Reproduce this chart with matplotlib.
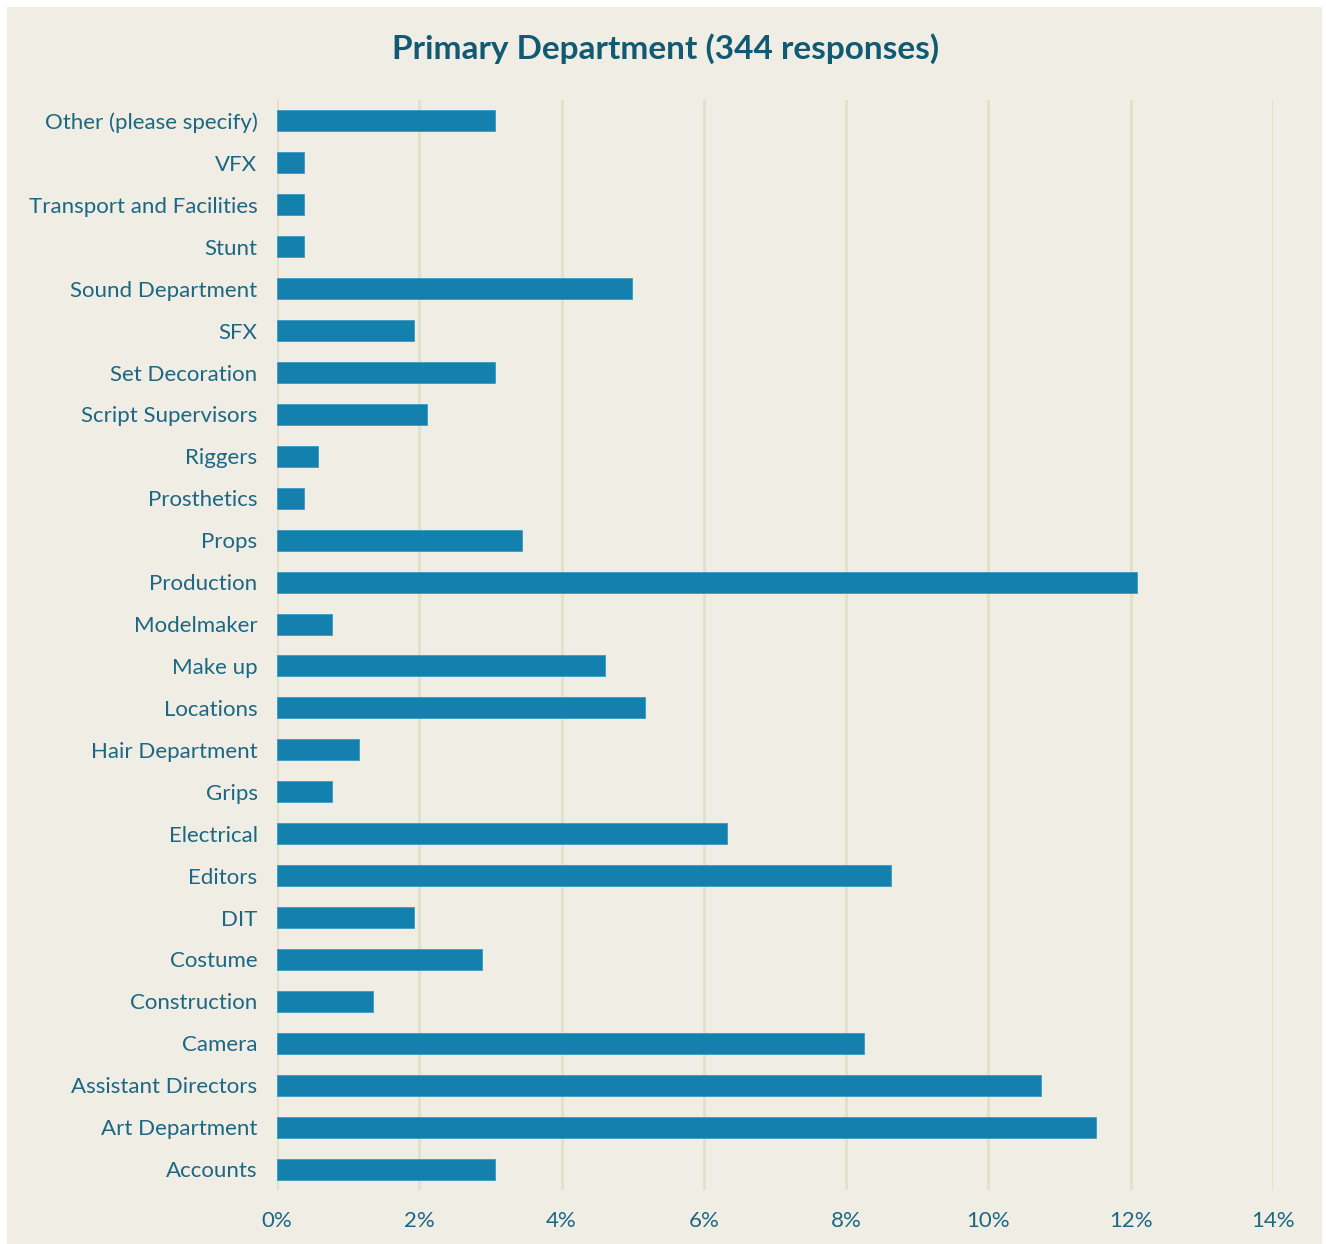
import numpy as np
import matplotlib.pyplot as plt
from matplotlib.patches import Rectangle

# data, bottom to top
departments = ["Accounts", "Art Department", "Assistant Directors", "Camera",
               "Construction", "Costume", "DIT", "Editors", "Electrical", "Grips",
               "Hair Department", "Locations", "Make up", "Modelmaker", "Production",
               "Props", "Prosthetics", "Riggers", "Script Supervisors", "Set Decoration",
               "SFX", "Sound Department", "Stunt", "Transport and Facilities", "VFX",
               "Other (please specify)"]
share = [3.06, 11.51, 10.74, 8.25, 1.35, 2.88, 1.93, 8.63, 6.33, 0.77,
         1.15, 5.17, 4.61, 0.77, 12.09, 3.44, 0.38, 0.58, 2.11, 3.06,
         1.93, 4.99, 0.38, 0.38, 0.38, 3.06]
xticks = [0, 2, 4, 6, 8, 10, 12, 14]

bg = "#f0ede4"
bar_col = "#1380ae"
txt_col = "#1b6784"
grid_col = "#e2dfca"

plt.rcParams['font.family'] = ['Lato', 'DejaVu Sans']

fig = plt.figure(figsize=(13.26, 12.44), dpi=100)
fig.patch.set_facecolor("white")
fig.patches.append(Rectangle((0.005, 0.0), 0.992, 0.994, transform=fig.transFigure,
                             facecolor=bg, edgecolor="none", zorder=-10))

ax = fig.add_axes([0.2089, 0.0434, 0.7511, 0.8762])
ax.set_facecolor("none")

y = np.arange(len(departments))
ax.barh(y, share, height=0.5, color=bar_col, edgecolor="#3c9ac2", linewidth=0.6, zorder=3)

ax.set_xlim(0, 14)
ax.set_ylim(-0.5, len(departments) - 0.5)
ax.set_xticks(xticks)
ax.set_xticklabels([f"{t}%" for t in xticks])
ax.set_yticks(y)
ax.set_yticklabels(departments)
ax.tick_params(axis="both", length=0, labelsize=16, colors=txt_col)
ax.tick_params(axis="y", pad=14)
ax.tick_params(axis="x", pad=15)
ax.xaxis.grid(True, color=grid_col, linewidth=2, zorder=0)
for s in ax.spines.values():
    s.set_visible(False)

fig.text(0.502, 0.961, "Primary Department (344 responses)", ha="center", va="center",
         fontsize=24, fontweight="bold", color="#115a73")

fig.savefig("out.png", dpi=100, facecolor=fig.get_facecolor())
